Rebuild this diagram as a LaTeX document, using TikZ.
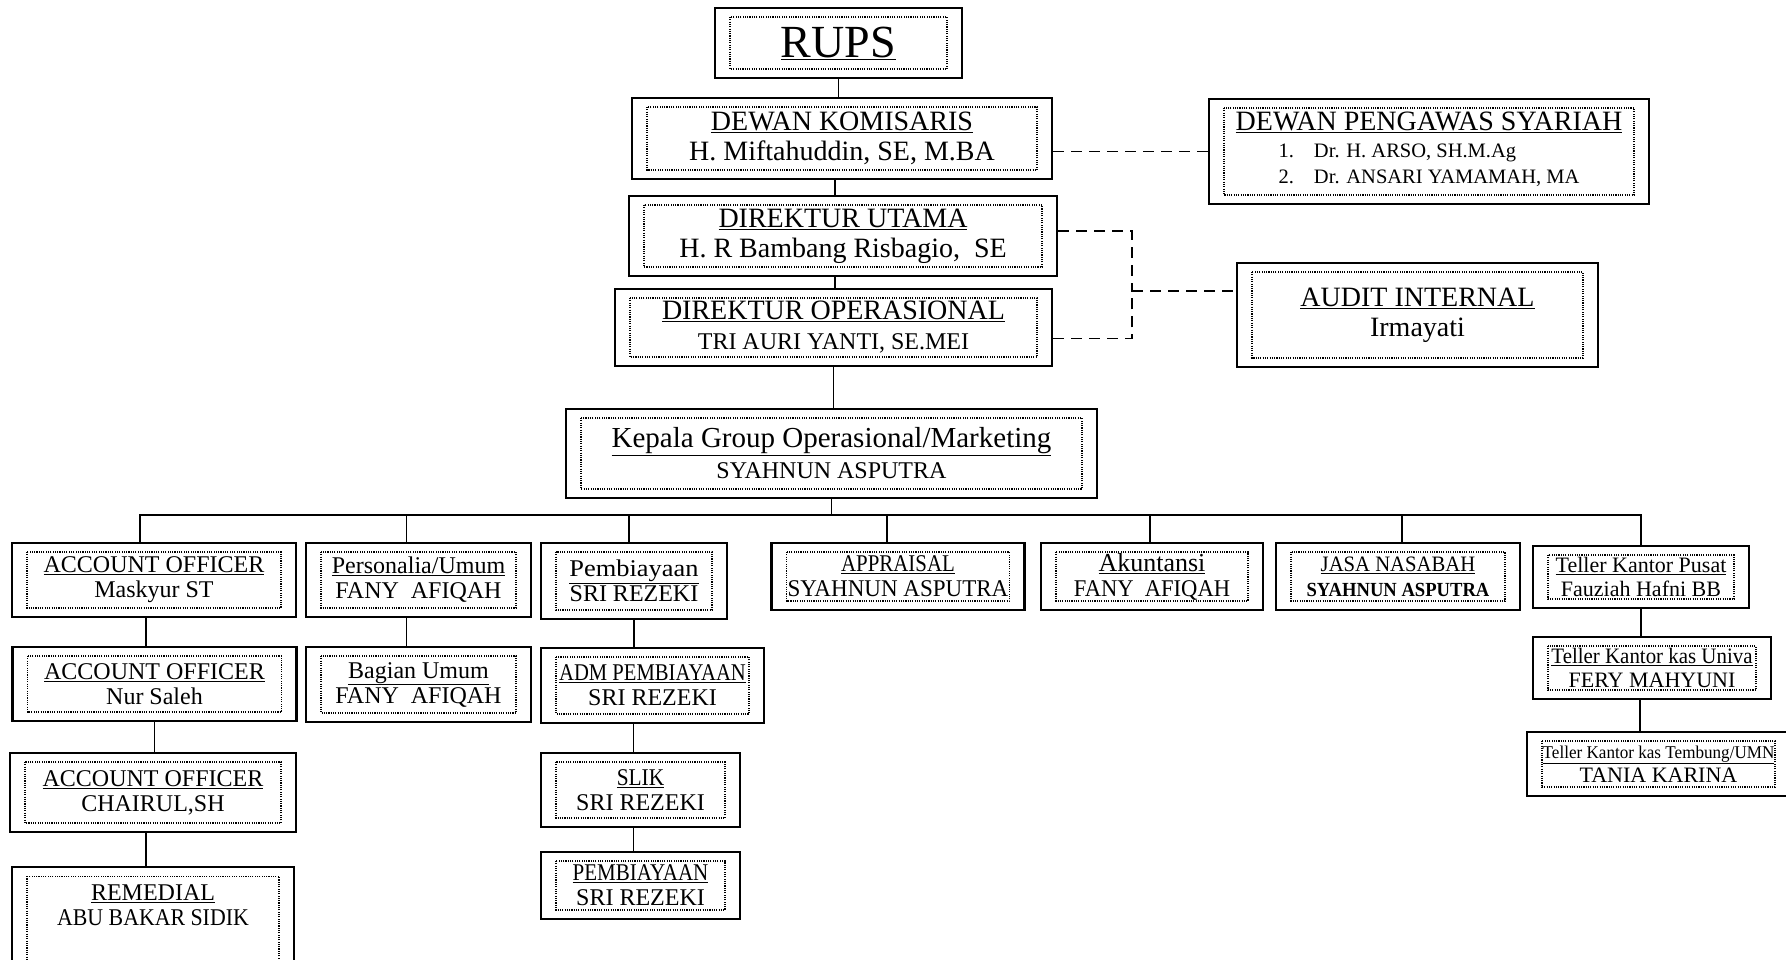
\documentclass[tikz,border=0pt]{standalone}
\usepackage{fontspec}
\setmainfont{Liberation Serif}
\usepackage{graphicx}

\newcommand{\hd}[1]{\underline{#1}}
\newcommand{\cx}[2]{\scalebox{#1}[1]{#2}}
\newcommand{\fsz}[1]{\fontsize{#1}{#1}\selectfont}

\tikzset{
        unit/.style={draw, line width=2.2pt, inner sep=0pt, align=center,
                font=\fontsize{24}{25}\selectfont,
                path picture={\draw [line width=1.1pt, dash pattern=on 1.1pt off 1.2pt]
                        ([xshift=15pt,yshift=-9pt]path picture bounding box.north west) rectangle
                        ([xshift=-15pt,yshift=9pt]path picture bounding box.south east);}},
        big/.style={unit, font=\fontsize{28}{30}\selectfont},
        link/.style={line width=1.8pt},
        dashline/.style={line width=1.8pt, dash pattern=on 11pt off 7pt},
}

\begin{document}
\begin{tikzpicture}[x=1pt, y=-1pt]
        \useasboundingbox (0,0) rectangle (1786,959);
        \clip (0,0) rectangle (1786,959);
        % top of the chart
        \node [unit, font=\fontsize{46}{48}\selectfont, minimum width=247pt, minimum height=70pt] (rups) at (838.5,43) {\hd{RUPS}};
        \node [big, minimum width=420pt, minimum height=81pt] (dk) at (842,138.5) {\hd{DEWAN KOMISARIS}\\H. Miftahuddin, SE, M.BA};
        \node [big, minimum width=428pt, minimum height=80pt] (du) at (843,236) {\hd{DIREKTUR UTAMA}\\H. R Bambang Risbagio,\ \ SE};
        \node [big, minimum width=437pt, minimum height=77pt] (dops) at (833.5,327.5) {\hd{DIREKTUR OPERASIONAL}\\{\fsz{24}TRI AURI YANTI, SE.MEI}};
        \node [big, font=\fontsize{29}{31}\selectfont, minimum width=531pt, minimum height=89pt] (kgo) at (831.5,453.5) {\hd{Kepala Group Operasional/Marketing}\\{\fsz{24}SYAHNUN ASPUTRA}};
        \node [big, minimum width=440pt, minimum height=105pt] (dps) at (1429,151.5) {\hd{DEWAN PENGAWAS SYARIAH}\\[6pt]{\fontsize{20.5}{26}\selectfont\begin{tabular}{@{}l@{\hspace{20pt}}l@{}}1. & Dr. H. ARSO, SH.M.Ag\\2. & Dr. ANSARI YAMAMAH, MA\end{tabular}}};
        \node [big, minimum width=361pt, minimum height=104pt] (ai) at (1417.5,315) {\hd{AUDIT INTERNAL}\\Irmayati};
        % units under the Kepala Group
        \node [unit, minimum width=284pt, minimum height=74pt] (ao1) at (154,580) {\hd{ACCOUNT OFFICER}\\Maskyur ST};
        \node [unit, minimum width=284pt, minimum height=74pt] (ao2) at (154.5,684) {\hd{ACCOUNT OFFICER}\\Nur Saleh};
        \node [unit, minimum width=286pt, minimum height=79pt] (ao3) at (153,792.5) {\hd{ACCOUNT OFFICER}\\CHAIRUL,SH};
        \node [unit, anchor=north, minimum width=282pt, inner ysep=18pt, text depth=60pt] (rem) at (153,866) {\hd{REMEDIAL}\\\cx{.91}{ABU BAKAR SIDIK}};
        \node [unit, minimum width=225pt, minimum height=74pt] (pers) at (418.5,580) {\hd{Personalia/Umum}\\FANY\ \ AFIQAH};
        \node [unit, minimum width=225pt, minimum height=75pt] (bag) at (418.5,684.5) {\hd{Bagian Umum}\\FANY\ \ AFIQAH};
        \node [unit, minimum width=186pt, minimum height=76pt] (pemb) at (634,581) {\hd{\cx{1.1}{Pembiayaan}}\\SRI REZEKI};
        \node [unit, minimum width=223pt, minimum height=75pt] (adm) at (652.5,685.5) {\hd{\cx{.86}{ADM PEMBIAYAAN}}\\SRI REZEKI};
        \node [unit, minimum width=199pt, minimum height=74pt] (slik) at (640.5,790) {\hd{\cx{.89}{SLIK}}\\SRI REZEKI};
        \node [unit, minimum width=199pt, minimum height=67pt] (pemb2) at (640.5,885.5) {\hd{\cx{.875}{PEMBIAYAAN}}\\SRI REZEKI};
        \node [unit, minimum width=253pt, minimum height=67pt] (appr) at (898,576.5) {\hd{\cx{.87}{APPRAISAL}}\\\cx{.96}{SYAHNUN ASPUTRA}};
        \node [unit, minimum width=222pt, minimum height=67pt] (akun) at (1152,576.5) {\hd{{\fsz{26}Akuntansi}}\\\cx{.94}{FANY\ \ AFIQAH}};
        \node [unit, font=\fontsize{22}{25}\selectfont, minimum width=244pt, minimum height=67pt] (jasa) at (1398,576.5) {\hd{\cx{.94}{JASA NASABAH}}\\{\fsz{20}\bfseries\cx{.93}{SYAHNUN ASPUTRA}}};
        \node [unit, font=\fontsize{22}{24}\selectfont, minimum width=216pt, minimum height=62pt] (tkp) at (1641,577) {\hd{Teller Kantor Pusat}\\Fauziah Hafni BB};
        \node [unit, font=\fontsize{22}{24}\selectfont, minimum width=238pt, minimum height=62pt] (tku) at (1652,668) {\hd{\cx{.95}{Teller Kantor kas Univa}}\\FERY MAHYUNI};
        \node [unit, font=\fontsize{22}{24}\selectfont, minimum width=263pt, minimum height=64pt] (tkt) at (1658.5,764) {{\fsz{18}\hd{\cx{.95}{Teller Kantor kas Tembung/UMN}}}\\TANIA KARINA};
        % solid lines
        \coordinate (bus) at (833,515);
        \draw [link] (rups.south) -- (rups.south |- dk.north);
        \draw [link] ([xshift=-7pt]dk.south) -- ([xshift=-7pt]dk.south |- du.north);
        \draw [link] ([xshift=-8pt]du.south) -- ([xshift=-8pt]du.south |- dops.north);
        \draw [link] (dops.south) -- (dops.south |- kgo.north);
        \draw [link] (kgo.south) -- (kgo.south |- bus);
        \draw [link] ([xshift=-14pt]ao1.north) |- (bus) -| (tkp.north);
        \draw [link] ([xshift=-12pt]pers.north) -- ([xshift=-12pt]pers.north |- bus);
        \draw [link] ([xshift=-5pt]pemb.north) -- ([xshift=-5pt]pemb.north |- bus);
        \draw [link] ([xshift=-11pt]appr.north) -- ([xshift=-11pt]appr.north |- bus);
        \draw [link] ([xshift=-2pt]akun.north) -- ([xshift=-2pt]akun.north |- bus);
        \draw [link] ([xshift=4pt]jasa.north) -- ([xshift=4pt]jasa.north |- bus);
        \draw [link] ([xshift=-8pt]ao1.south) -- ([xshift=-8pt]ao1.south |- ao2.north);
        \draw [link] (ao2.south) -- (ao2.south |- ao3.north);
        \draw [link] ([xshift=-7pt]ao3.south) -- ([xshift=-7pt]ao3.south |- rem.north);
        \draw [link] ([xshift=-12pt]pers.south) -- ([xshift=-12pt]pers.south |- bag.north);
        \draw [link] (pemb.south) -- (pemb.south |- adm.north);
        \draw [link] ([xshift=-19pt]adm.south) -- ([xshift=-19pt]adm.south |- slik.north);
        \draw [link] ([xshift=-7pt]slik.south) -- ([xshift=-7pt]slik.south |- pemb2.north);
        \draw [link] (tkp.south) -- (tkp.south |- tku.north);
        \draw [link] ([xshift=-12pt]tku.south) -- ([xshift=-12pt]tku.south |- tkt.north);
        % dashed lines
        \coordinate (jn) at (1132,291);
        \draw [dashline] (dk.east |- dps.west) -- (dps.west);
        \draw [dashline] ([yshift=5pt]du.east) -| (jn);
        \draw [dashline] ([yshift=-11pt]dops.east) -| (jn);
        \draw [dashline] (jn) -- (jn -| ai.west);
\end{tikzpicture}
\end{document}
